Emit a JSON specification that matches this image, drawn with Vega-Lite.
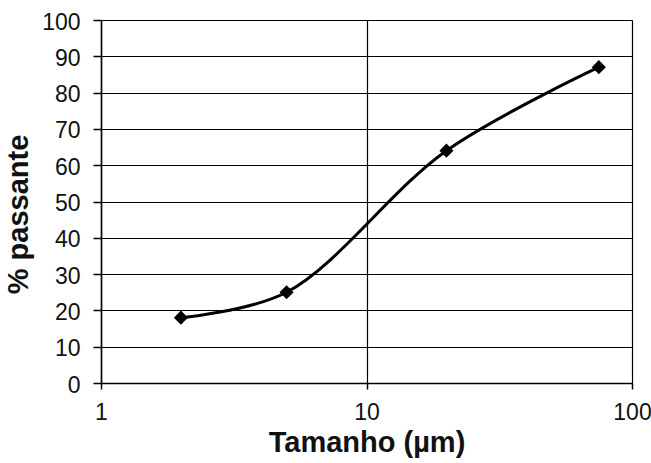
{
  "$schema": "https://vega.github.io/schema/vega-lite/v6.json",
  "width": 531,
  "height": 363,
  "autosize": "none",
  "padding": {"left": 101, "top": 20, "right": 19, "bottom": 80},
  "background": "white",
  "config": {
    "font": "Liberation Sans",
    "view": {"stroke": "#888888", "strokeWidth": 1}
  },
  "data": {
    "values": [
      {"tamanho": 2, "passante": 18},
      {"tamanho": 5, "passante": 25},
      {"tamanho": 20, "passante": 64},
      {"tamanho": 75, "passante": 87}
    ]
  },
  "encoding": {
    "x": {
      "field": "tamanho",
      "type": "quantitative",
      "scale": {"type": "log", "domain": [1, 100], "nice": false},
      "axis": {
        "title": "Tamanho (µm)",
        "values": [1, 10, 100],
        "format": "d",
        "labelFlush": false,
        "grid": true,
        "gridColor": "black",
        "gridWidth": 1.2,
        "gridOpacity": 1,
        "domainColor": "black",
        "domainWidth": 1.5,
        "tickColor": "black",
        "tickWidth": 1.5,
        "tickSize": 6,
        "labelFontSize": 23,
        "labelColor": "#111111",
        "labelPadding": 12,
        "titleFontSize": 29,
        "titleFontWeight": "bold",
        "titleColor": "#111111",
        "titlePadding": 4
      }
    },
    "y": {
      "field": "passante",
      "type": "quantitative",
      "scale": {"domain": [0, 100], "nice": false},
      "axis": {
        "title": "% passante",
        "values": [0, 10, 20, 30, 40, 50, 60, 70, 80, 90, 100],
        "labelFlush": false,
        "grid": true,
        "gridColor": "black",
        "gridWidth": 1.2,
        "gridOpacity": 1,
        "domainColor": "black",
        "domainWidth": 1.5,
        "tickColor": "black",
        "tickWidth": 1.5,
        "tickSize": 8,
        "labelFontSize": 23,
        "labelColor": "#111111",
        "labelPadding": 13,
        "labelOffset": 2,
        "titleFontSize": 29,
        "titleFontWeight": "bold",
        "titleColor": "#111111",
        "titlePadding": 8,
        "titleY": 194
      }
    }
  },
  "layer": [
    {
      "mark": {"type": "line", "color": "black", "strokeWidth": 3, "interpolate": "catmull-rom"}
    },
    {
      "mark": {"type": "point", "shape": "diamond", "filled": true, "color": "black", "opacity": 1, "size": 200}
    }
  ]
}
